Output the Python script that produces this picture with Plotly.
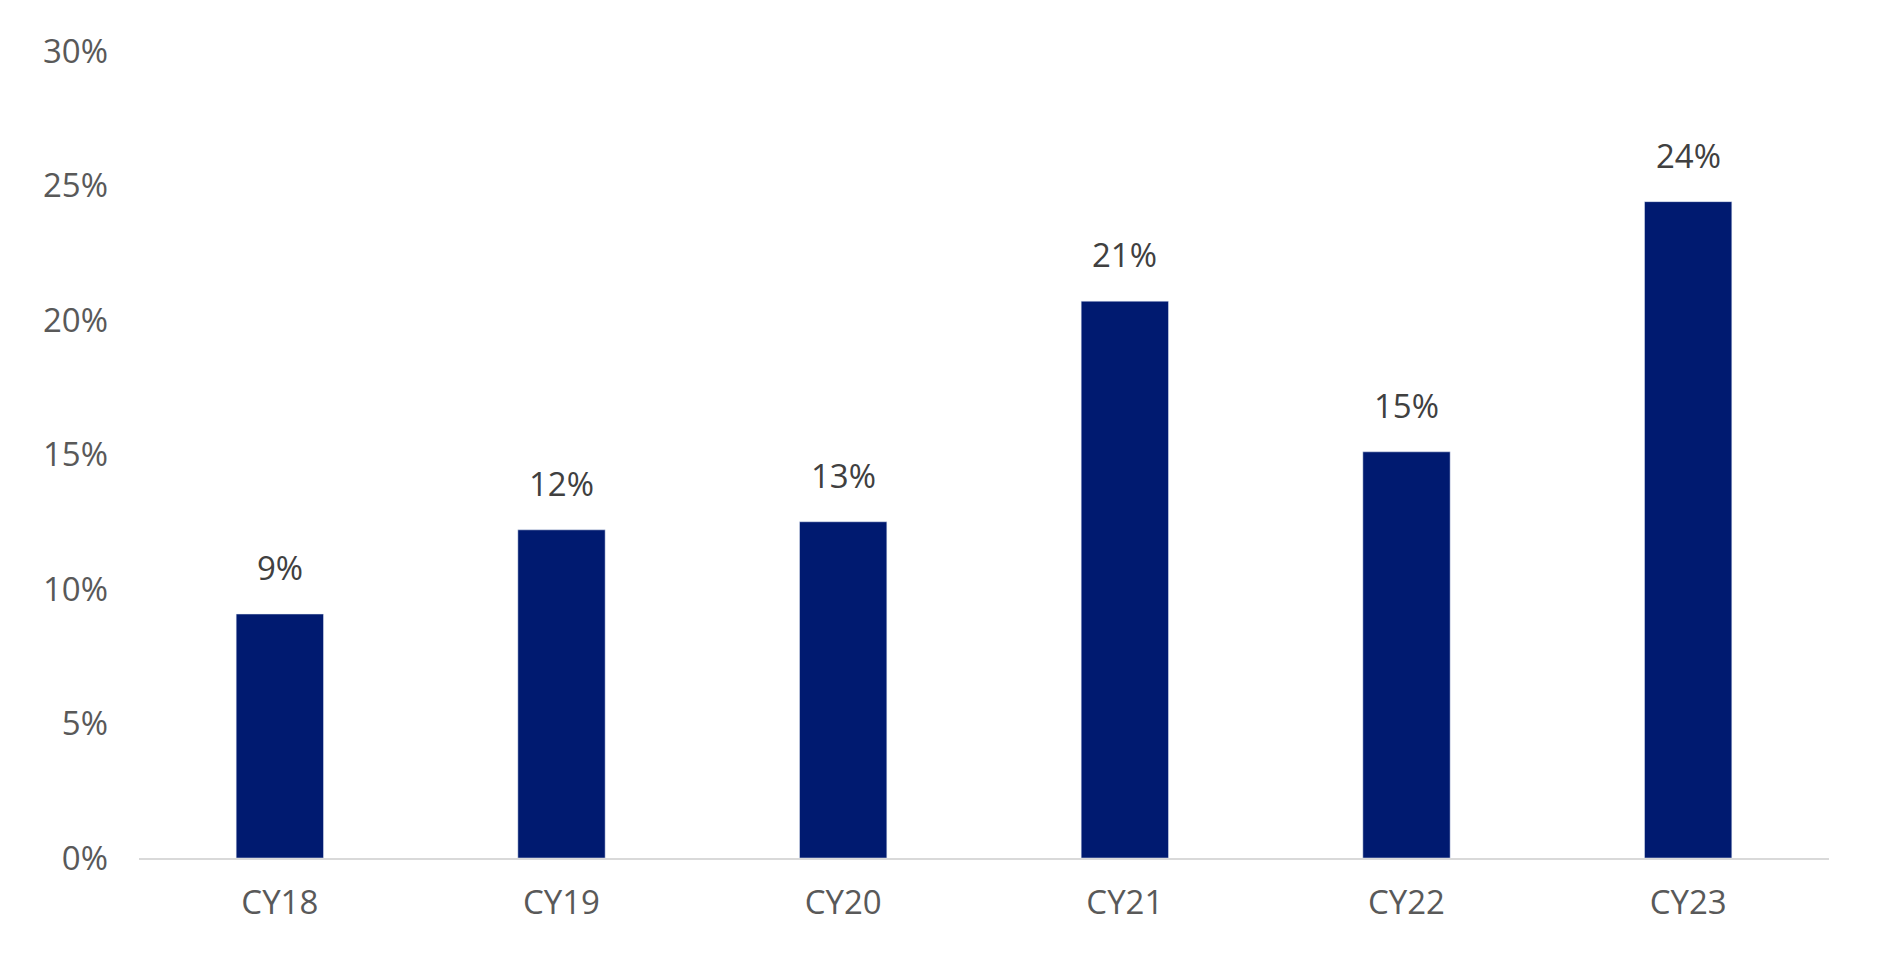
import plotly.graph_objects as go

years = ["CY18", "CY19", "CY20", "CY21", "CY22", "CY23"]
growth = [9.07, 12.2, 12.5, 20.7, 15.1, 24.4]
labels = ["9%", "12%", "13%", "21%", "15%", "24%"]

fig = go.Figure(go.Bar(x=years, y=growth, marker_color="#001a70"))
for yr, val, lab in zip(years, growth, labels):
    fig.add_annotation(x=yr, y=val, text=lab, showarrow=False, yanchor="bottom",
                       yshift=22, font=dict(size=33, color="#404040"))
fig.update_layout(
    width=1877, height=965, plot_bgcolor="white", paper_bgcolor="white",
    margin=dict(l=131, r=56, t=43, b=115),
    bargap=0.69, showlegend=False,
    font=dict(family="Open Sans", size=33, color="#595959"),
)
fig.update_yaxes(range=[0, 30], tickvals=[0, 5, 10, 15, 20, 25, 30],
                 ticktext=["0%", "5%", "10%", "15%", "20%", "25%", "30%"],
                 showgrid=False, zeroline=False, ticks="", ticklabelstandoff=30)
fig.update_xaxes(showline=True, linecolor="#d9d9d9", linewidth=2, ticks="",
                 ticklabelstandoff=14)
fig.write_html("out.html")
